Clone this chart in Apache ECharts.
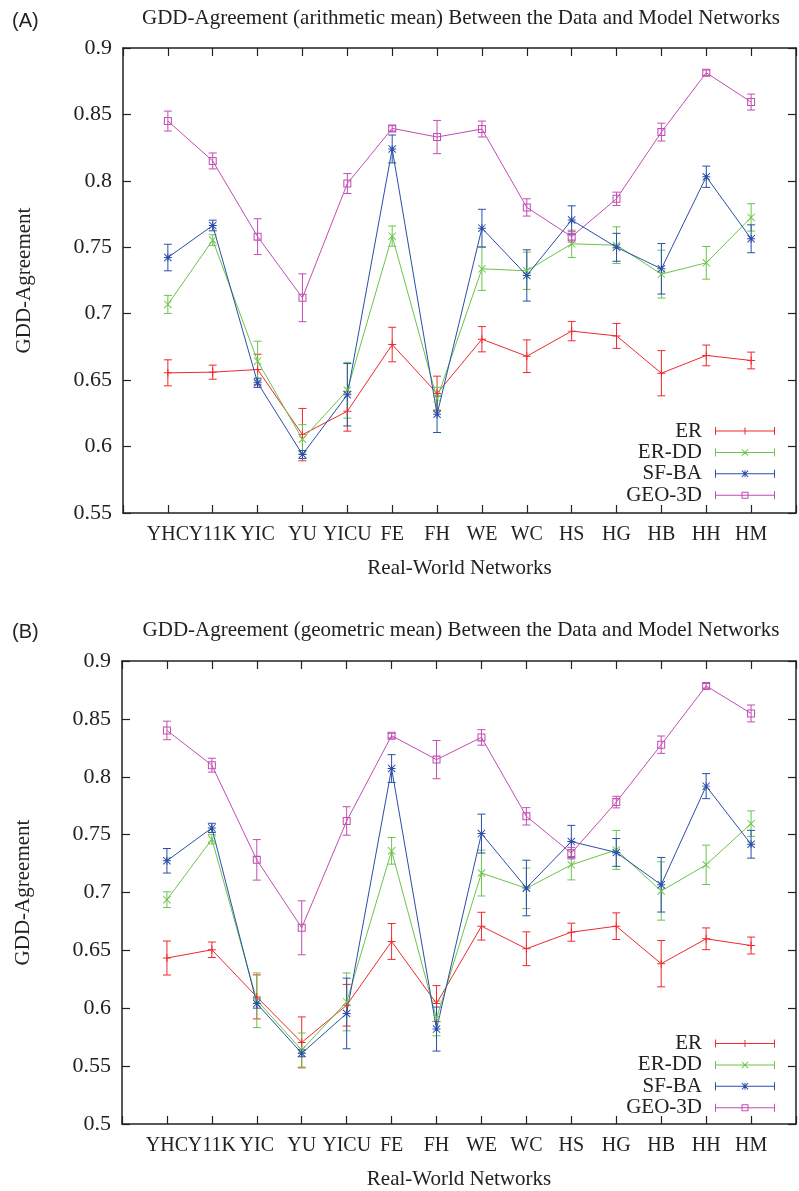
<!DOCTYPE html>
<html><head><meta charset="utf-8">
<script src="https://cdn.jsdelivr.net/npm/echarts@6/dist/echarts.min.js"></script>
<style>html,body{margin:0;padding:0;background:#fff}#c{width:799px;height:1191px}</style>
</head><body><div id="c"></div>
<script>
// ---------- data ----------
const categories = ['YHC','Y11K','YIC','YU','YICU','FE','FH','WE','WC','HS','HG','HB','HH','HM'];
const seriesNames = ['ER','ER-DD','SF-BA','GEO-3D'];

// Panel A: arithmetic mean
const erA      = [0.6555,0.656,0.658,0.609,0.6266,0.6768,0.640,0.6808,0.668,0.6869,0.6833,0.6552,0.6686,0.6648];
const erAErr   = [0.0098,0.0053,0.0115,0.0197,0.015,0.013,0.013,0.0095,0.0123,0.0073,0.0094,0.017,0.0078,0.0063];
const erddA    = [0.707,0.7554,0.6643,0.6055,0.6424,0.7584,0.6361,0.7338,0.7323,0.7526,0.7516,0.7298,0.7383,0.7725];
const erddAErr = [0.0068,0.004,0.015,0.011,0.021,0.0076,0.0085,0.0163,0.014,0.0103,0.0138,0.018,0.0123,0.0103];
const sfbaA    = [0.7423,0.7664,0.648,0.594,0.639,0.824,0.6243,0.7644,0.7288,0.7705,0.750,0.7338,0.8031,0.7564];
const sfbaAErr = [0.010,0.004,0.0035,0.003,0.0235,0.0105,0.0137,0.0142,0.0193,0.0107,0.0105,0.019,0.008,0.0105];
const geoA     = [0.845,0.815,0.758,0.712,0.798,0.8395,0.833,0.839,0.780,0.758,0.7865,0.8367,0.8814,0.8593];
const geoAErr  = [0.0075,0.006,0.0135,0.018,0.0075,0.002,0.0125,0.006,0.0065,0.004,0.005,0.0067,0.002,0.006];

// Panel B: geometric mean
const erB      = [0.6434,0.6505,0.6098,0.5705,0.6026,0.6577,0.6041,0.6709,0.6514,0.6657,0.6709,0.6385,0.66,0.6542];
const erBErr   = [0.0147,0.0067,0.019,0.022,0.018,0.0155,0.0155,0.012,0.0146,0.0078,0.0115,0.02,0.0094,0.0073];
const erddB    = [0.6938,0.746,0.6069,0.5639,0.6055,0.736,0.5912,0.7168,0.7036,0.7239,0.7368,0.7013,0.7239,0.7595];
const erddBErr = [0.0068,0.004,0.0236,0.0147,0.025,0.0115,0.015,0.0198,0.0175,0.013,0.0168,0.0252,0.017,0.011];
const sfbaB    = [0.7274,0.7558,0.6041,0.5611,0.5955,0.8071,0.582,0.7509,0.7039,0.744,0.7346,0.7067,0.7919,0.7417];
const sfbaBErr = [0.0106,0.004,0.004,0.003,0.0305,0.012,0.019,0.0168,0.024,0.014,0.012,0.0236,0.0108,0.012];
const geoB     = [0.840,0.810,0.7282,0.6695,0.7618,0.8355,0.8148,0.834,0.7658,0.734,0.7781,0.8277,0.8785,0.8547];
const geoBErr  = [0.008,0.006,0.0175,0.0233,0.0123,0.002,0.0165,0.0067,0.0075,0.005,0.005,0.0075,0.002,0.0073];

const titleA = 'GDD-Agreement (arithmetic mean) Between the Data and Model Networks';
const titleB = 'GDD-Agreement (geometric mean) Between the Data and Model Networks';
const yName = 'GDD-Agreement';
const xName = 'Real-World Networks';

// ---------- styles ----------
const colors = ['#ee2a2e', '#6cc44c', '#2a4fa8', '#c24db3'];
const SERIF = '"Liberation Serif", "Times New Roman", serif';
const TXT = '#222';
const symbols = [
  'path://M4.4,0 H5.6 V4.4 H10 V5.6 H5.6 V10 H4.4 V5.6 H0 V4.4 H4.4 Z',
  'path://M0,0.85 L0.85,0 L10,9.15 L9.15,10 Z M10,0.85 L0.85,10 L0,9.15 L9.15,0 Z',
  'path://M4.4,0 H5.6 V4.4 H10 V5.6 H5.6 V10 H4.4 V5.6 H0 V4.4 H4.4 Z M0,0.85 L0.85,0 L10,9.15 L9.15,10 Z M10,0.85 L0.85,10 L0,9.15 L9.15,0 Z',
  'path://M0,0 H10 V10 H0 Z M1.3,1.3 V8.7 H8.7 V1.3 Z'
];
const legBase = 'M0,3.5 H60 V4.5 H0 Z M0,0 H1 V8 H0 Z M59,0 H60 V8 H59 Z ';
const legendIcons = [
  'path://' + legBase + 'M29.5,0.5 H30.5 V7.5 H29.5 Z',
  'path://' + legBase + 'M26.5,1.2 L27.2,0.5 L33.5,6.8 L32.8,7.5 Z M33.5,1.2 L27.2,7.5 L26.5,6.8 L32.8,0.5 Z',
  'path://' + legBase + 'M29.5,0.5 H30.5 V7.5 H29.5 Z M26.5,1.2 L27.2,0.5 L33.5,6.8 L32.8,7.5 Z M33.5,1.2 L27.2,7.5 L26.5,6.8 L32.8,0.5 Z',
  'path://' + legBase + 'M26.5,0.5 H33.5 V7.5 H26.5 Z M27.5,1.5 V6.5 H32.5 V1.5 Z'
];

function errRender(params, api) {
  const x = api.value(0), y = api.value(1), e = api.value(2);
  const t = api.coord([x, y + e]);
  const b = api.coord([x, y - e]);
  const w = 4;
  const st = { stroke: api.visual('color'), lineWidth: 1 };
  return { type: 'group', children: [
    { type: 'line', shape: { x1: t[0], y1: t[1], x2: b[0], y2: b[1] }, style: st },
    { type: 'line', shape: { x1: t[0] - w, y1: t[1], x2: t[0] + w, y2: t[1] }, style: st },
    { type: 'line', shape: { x1: b[0] - w, y1: b[1], x2: b[0] + w, y2: b[1] }, style: st }
  ]};
}

const grids = [], xAxes = [], yAxes = [], series = [], legends = [], titles = [];

function addPanel(p, cfg) {
  grids.push({ left: cfg.left, top: cfg.top, right: 0, height: cfg.height });
  const axisLine = { show: true, onZero: false, lineStyle: { color: TXT, width: 1.5 } };
  const tick = { show: true, inside: true, length: 8, lineStyle: { color: TXT, width: 1.2 } };
  xAxes.push({
    type: 'value', gridIndex: p, position: 'bottom', min: -1, max: 14, interval: 1,
    axisLine, axisTick: tick, splitLine: { show: false },
    axisLabel: { margin: 12, color: TXT, fontFamily: SERIF, fontSize: 20,
      formatter: v => (categories[v] !== undefined ? categories[v] : '') },
    name: xName, nameLocation: 'middle', nameGap: 45,
    nameTextStyle: { color: TXT, fontFamily: SERIF, fontSize: 21 }
  });
  xAxes.push({
    type: 'value', gridIndex: p, position: 'top', min: -1, max: 14, interval: 1,
    axisLine, axisTick: tick, splitLine: { show: false }, axisLabel: { show: false }
  });
  yAxes.push({
    type: 'value', gridIndex: p, position: 'left', min: cfg.ymin, max: 0.9, interval: 0.05,
    axisLine, axisTick: tick, splitLine: { show: false },
    axisLabel: { margin: 11, color: TXT, fontFamily: SERIF, fontSize: 22 },
    name: yName, nameLocation: 'middle', nameGap: 88,
    nameTextStyle: { color: TXT, fontFamily: SERIF, fontSize: 21 }
  });
  yAxes.push({
    type: 'value', gridIndex: p, position: 'right', min: cfg.ymin, max: 0.9, interval: 0.05,
    axisLine, axisTick: tick, splitLine: { show: false }, axisLabel: { show: false }
  });
  const xi = p * 2, yi = p * 2;
  cfg.vals.forEach((vals, k) => {
    series.push({
      type: 'line', name: seriesNames[k], xAxisIndex: xi, yAxisIndex: yi,
      data: vals.map((v, i) => [i, v]),
      symbol: symbols[k], symbolSize: 8, showAllSymbol: true,
      itemStyle: { color: colors[k], borderWidth: 0 },
      lineStyle: { color: colors[k], width: 1 },
      animation: false, z: 3
    });
  });
  cfg.vals.forEach((vals, k) => {
    series.push({
      type: 'custom', name: seriesNames[k], xAxisIndex: xi, yAxisIndex: yi,
      data: vals.map((v, i) => [i, v, cfg.errs[k][i]]),
      encode: { x: 0, y: 1 },
      itemStyle: { color: colors[k] },
      renderItem: errRender, animation: false, z: 2
    });
  });
  legends.push({
    orient: 'vertical', align: 'right', right: 24, top: cfg.legendTop, padding: 0,
    itemWidth: 60, itemHeight: 8, itemGap: 0.4,
    itemStyle: { borderWidth: 0 },
    selectedMode: false,
    textStyle: { color: TXT, fontFamily: SERIF, fontSize: 21, lineHeight: 21, padding: [0, 8, 0, 0] },
    data: seriesNames.map((n, k) => ({ name: n, icon: legendIcons[k] }))
  });
  titles.push({
    text: cfg.title, left: 461, textAlign: 'center', top: cfg.titleTop, padding: 0,
    textStyle: { color: TXT, fontFamily: SERIF, fontSize: 21, fontWeight: 'normal' }
  });
  titles.push({
    text: cfg.tag, left: 12, top: cfg.tagTop, padding: 0,
    textStyle: { color: TXT, fontFamily: '"Liberation Sans", Arial, sans-serif', fontSize: 20, fontWeight: 'normal' }
  });
}

addPanel(0, { left: 123, top: 48, height: 465, ymin: 0.55,
  vals: [erA, erddA, sfbaA, geoA], errs: [erAErr, erddAErr, sfbaAErr, geoAErr],
  legendTop: 420.5, title: titleA, titleTop: 8, tag: '(A)', tagTop: 11 });
addPanel(1, { left: 122, top: 661, height: 465, ymin: 0.5,
  vals: [erB, erddB, sfbaB, geoB], errs: [erBErr, erddBErr, sfbaBErr, geoBErr],
  legendTop: 1033, title: titleB, titleTop: 620, tag: '(B)', tagTop: 622 });

const chart = echarts.init(document.getElementById('c'), null, { renderer: 'canvas' });
chart.setOption({
  backgroundColor: '#ffffff',
  animation: false,
  title: titles, grid: grids, xAxis: xAxes, yAxis: yAxes, legend: legends, series: series
});
</script></body></html>
